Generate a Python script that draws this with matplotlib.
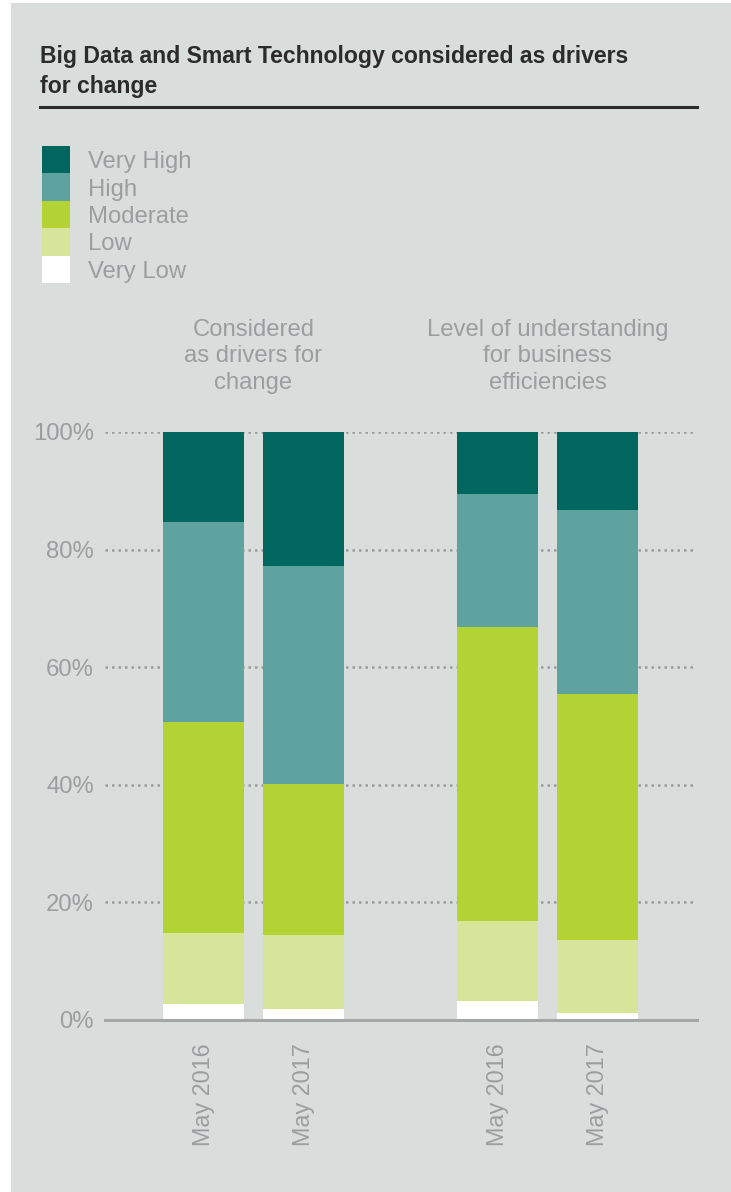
import numpy as np
import matplotlib.pyplot as plt
from matplotlib.patches import Rectangle

# Data
groups = ["Considered\nas drivers for\nchange", "Level of understanding\nfor business\nefficiencies"]
dates = ["May 2016", "May 2017", "May 2016", "May 2017"]
levels = ["Very High", "High", "Moderate", "Low", "Very Low"]
very_low = [2.7, 1.9, 3.2, 1.2]
low = [12.1, 12.6, 13.6, 12.4]
moderate = [35.9, 25.6, 50.0, 41.8]
high = [34.0, 37.1, 22.7, 31.3]
very_high = [15.3, 22.8, 10.5, 13.3]
yticks = [0, 20, 40, 60, 80, 100]

colors = {"Very High": "#00665e", "High": "#5ea3a0", "Moderate": "#b3d334",
          "Low": "#d7e59a", "Very Low": "#ffffff"}
bg = "#d9dedc"
grey = "#9b9d9f"

W, H = 731, 1192
fig = plt.figure(figsize=(W / 100, H / 100), dpi=100)
fig.patch.set_facecolor("white")

def fx(px):
    return px / W

def fy(py):
    return 1 - py / H

# panel
fig.add_artist(Rectangle((fx(11), 0), 1 - fx(11), fy(3), transform=fig.transFigure,
                         facecolor=bg, edgecolor="none", zorder=0))

font = "Liberation Sans"
fs = 17.2

# title
fig.text(fx(40), fy(63), "Big Data and Smart Technology considered as drivers",
         fontsize=16.6, fontweight="bold", color="#2b2b2b", family=font, va="baseline")
fig.text(fx(40), fy(93), "for change",
         fontsize=16.6, fontweight="bold", color="#2b2b2b", family=font, va="baseline")
fig.add_artist(plt.Line2D([fx(40), fx(697)], [fy(107), fy(107)], transform=fig.transFigure,
                          color="#2b2b2b", lw=2.2))

# legend
for i, lab in enumerate(levels):
    top = 146 + i * 27.4
    fig.add_artist(Rectangle((fx(42), fy(top + 27.4)), fx(70) - fx(42), 27.4 / H,
                             transform=fig.transFigure, facecolor=colors[lab],
                             edgecolor="none"))
    fig.text(fx(88), fy(top + 13.7), lab, fontsize=fs, color=grey, family=font,
             va="center_baseline")

# axes
ax = fig.add_axes([fx(105), fy(1020), fx(697) - fx(105), (1020 - 432) / H])
ax.patch.set_alpha(0)
x = np.array([0, 1, 2.94, 3.94])
width = 0.81
bottom = np.zeros(4)
series = [("Very Low", very_low), ("Low", low), ("Moderate", moderate),
          ("High", high), ("Very High", very_high)]
for lab, vals in series:
    ax.bar(x, vals, width, bottom=bottom, color=colors[lab], edgecolor="none", zorder=3)
    bottom += np.array(vals)

ax.set_xlim(-0.985, 4.935)
ax.set_ylim(0, 100)
ax.set_yticks(yticks)
ax.set_yticklabels([f"{t}%" for t in yticks], fontsize=fs, color=grey, family=font)
ax.tick_params(axis="y", length=0, pad=8)
for t in yticks[1:]:
    ax.axhline(t, color="#9a9c9e", lw=1.8, ls=(0, (1, 1.6)), zorder=1)
ax.axhline(0, color="#a3a5a7", lw=2.2, zorder=4, clip_on=False)
for s in ax.spines.values():
    s.set_visible(False)

ax.set_xticks(x)
ax.set_xticklabels(dates, rotation=90, fontsize=16.8, color=grey, family=font, va="top")
ax.tick_params(axis="x", length=0, pad=17)

# group headers
for i, g in enumerate(groups):
    cx = (x[2 * i] + x[2 * i + 1]) / 2
    ax.text(cx, 1.0 + (432 - 319) / 588, g, transform=ax.get_xaxis_transform(),
            ha="center", va="top", fontsize=fs, color=grey, family=font,
            linespacing=1.26)

fig.savefig("out.png", dpi=100, facecolor=fig.get_facecolor())
